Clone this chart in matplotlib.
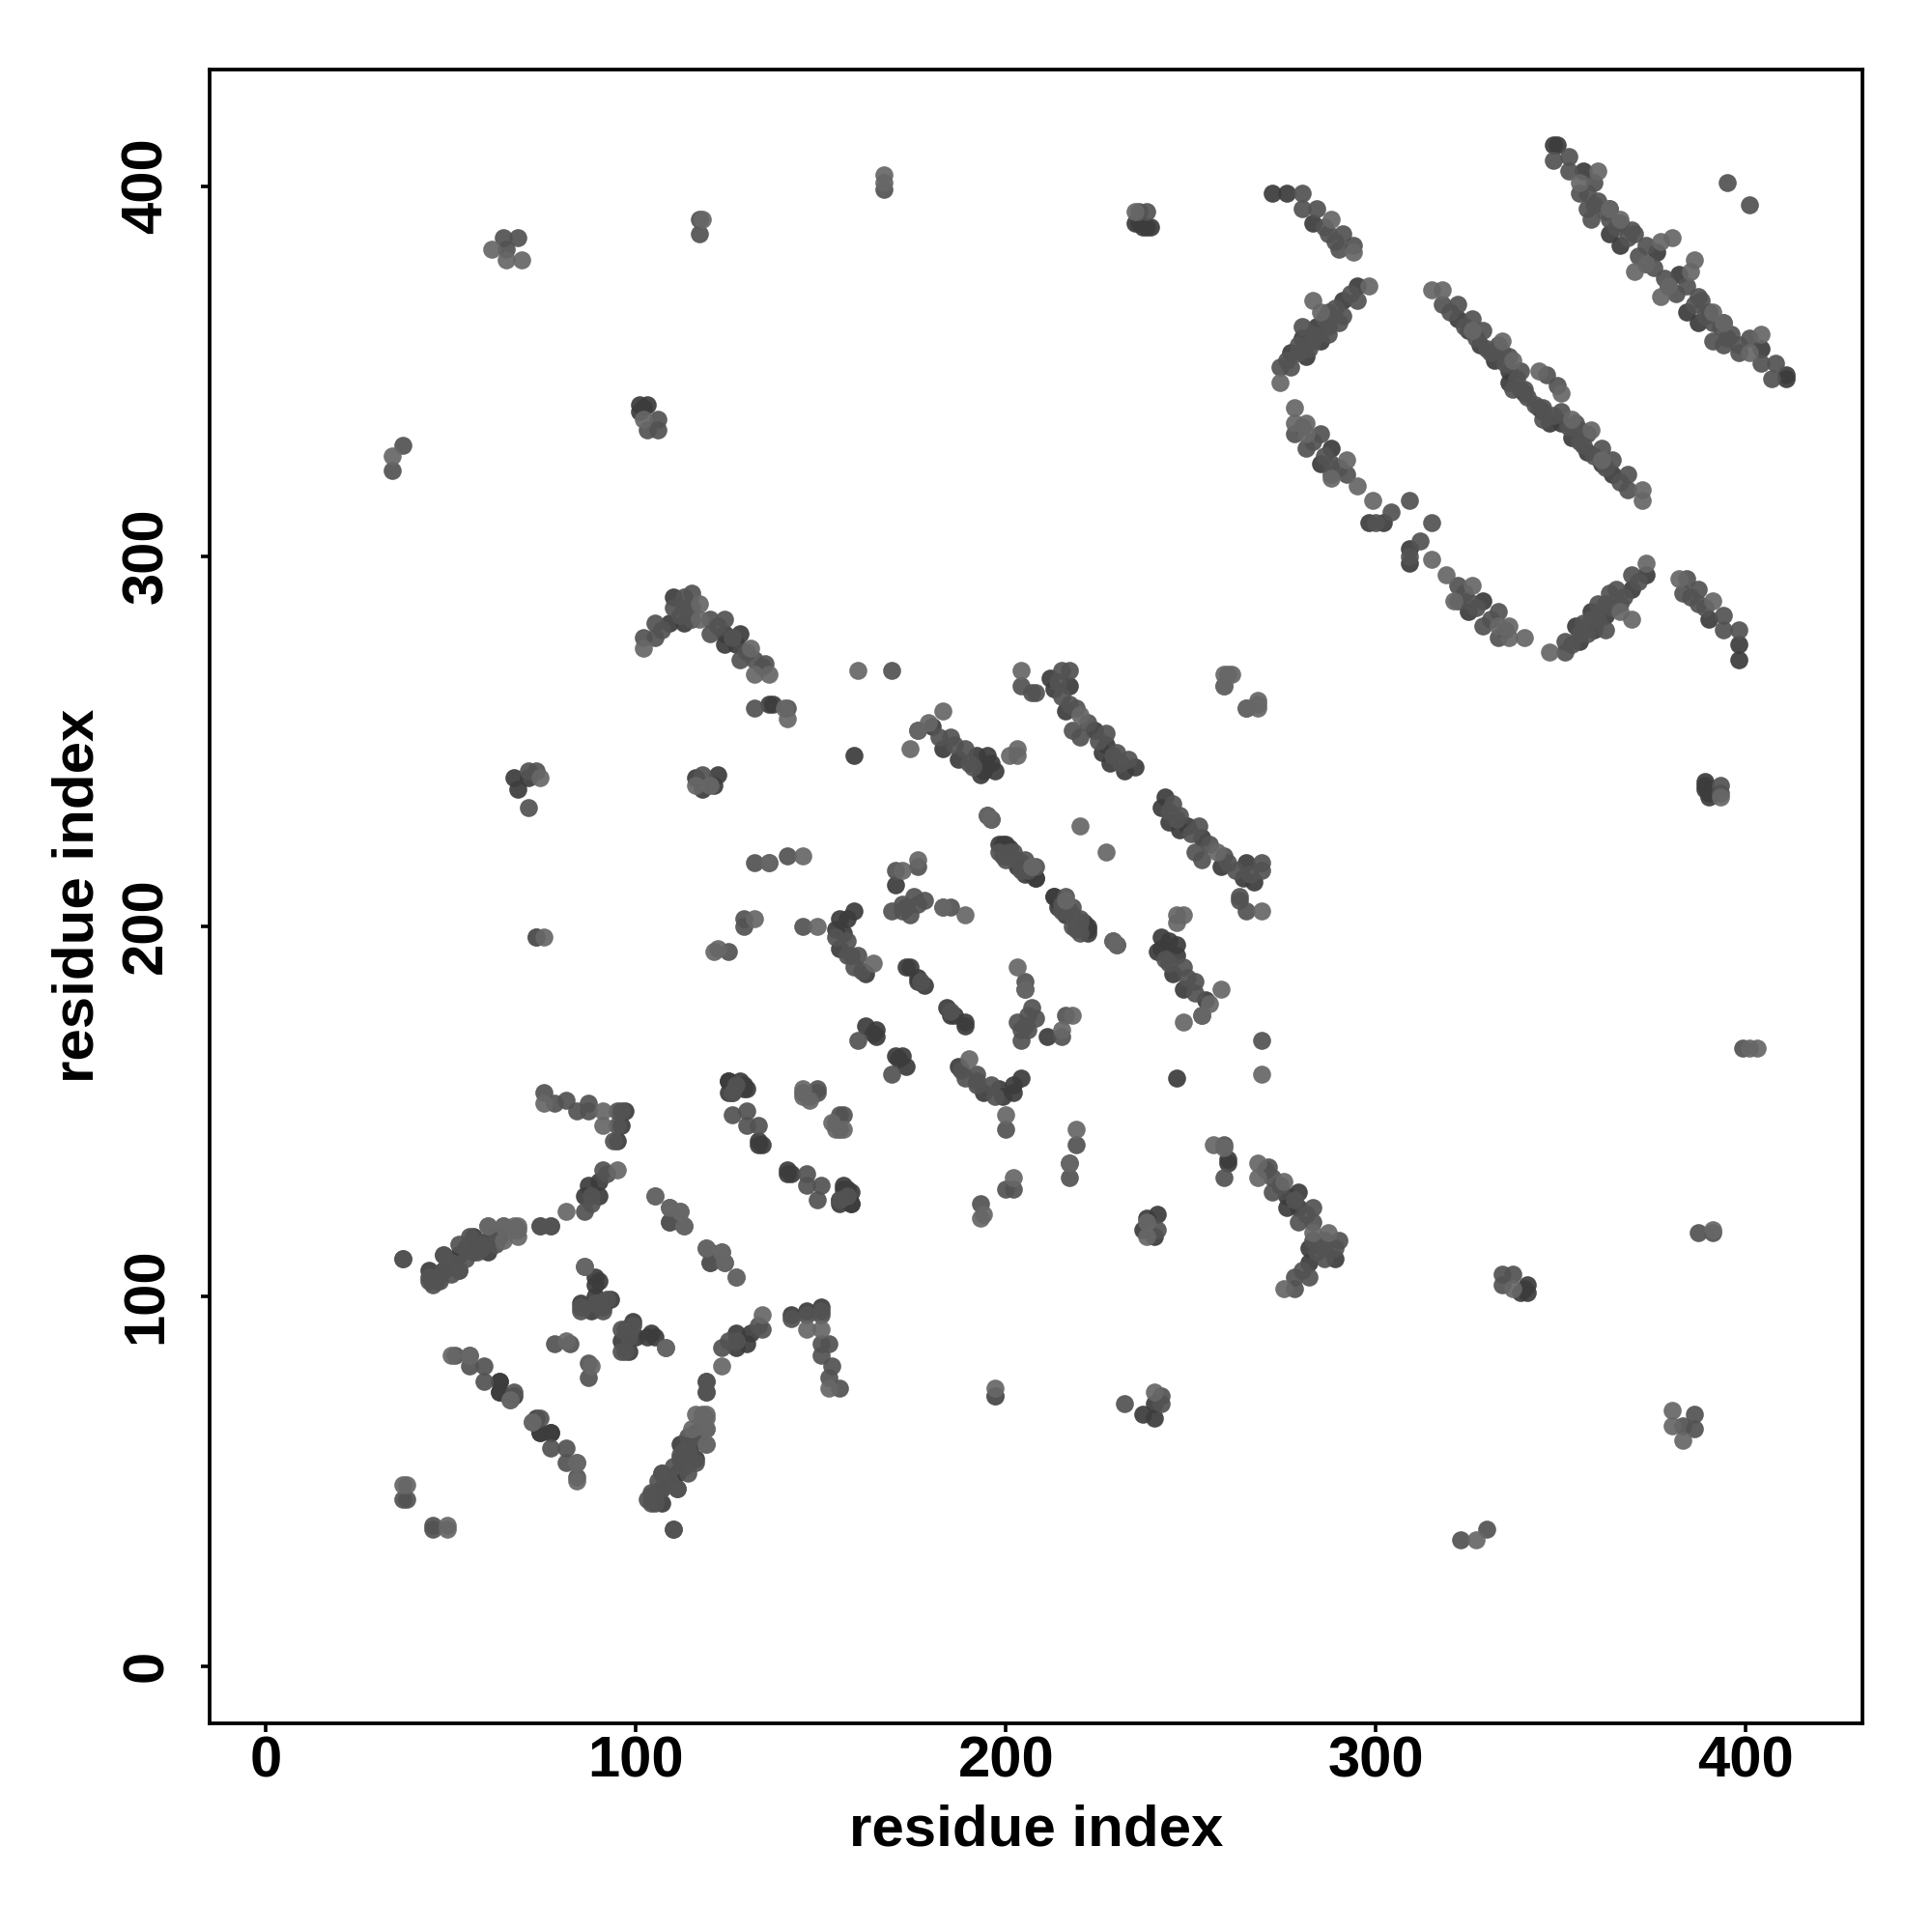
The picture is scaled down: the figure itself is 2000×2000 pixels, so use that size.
import numpy as np
import matplotlib
matplotlib.use('Agg')
import matplotlib.pyplot as plt

plt.rcParams['font.family'] = ['Liberation Sans', 'DejaVu Sans']
plt.rcParams['font.weight'] = 'bold'

# contacts (i<j), grouped by how dark the dot is
dark_contacts = [
    (349,411),(348,411),(356,404),(363,394),(366,390),(363,387),(366,384),(373,379),(376,382),
    (272,398),(276,398),(283,390),(277,355),(280,359),(284,362),(285,358),(281,354),(291,369),(295,373),
    (325,361),(328,357),(332,353),(336,350),(336,347),(339,345),(322,364),
    (340,344),(285,325),(288,329),(302,309),(298,309),
    (109,282),(110,289),(113,282),(124,276),(124,279),(128,279),(127,276),(136,260),(137,260),
    (67,240),(68,237),(71,240),(116,240),(118,237),(122,241),(121,238),
    (159,246),(154,199),(155,202),(157,202),(159,204),(156,198),(155,194),(162,187),
    (170,211),(173,189),(174,189),(176,186),(176,185),(178,184),
    (162,173),(165,172),(165,170),(164,171),
    (193,241),(194,242),(196,244),(197,242),(195,246),(187,245),(192,246),(180,254),(183,248),
    (212,267),(217,265),(213,264),(216,258),(226,247),(228,244),(232,242),(235,243),(224,253),(227,249),
    (195,230),(196,229),(198,222),(200,222),(203,216),(205,214),(207,214),(208,213),
    (213,208),(199,222),(201,221),
    (89,105),(89,103),(90,104),(85,98),(88,96),(93,99),(91,97),(89,100),
    (60,115),(63,116),(56,116),(56,112),(52,111),(60,112),(111,52),
    (44,107),(48,107),(87,130),(90,127),(86,127),(90,131),
    (125,158),(128,158),(129,156),(125,155),(133,142),(133,141),
    (141,134),(156,130),(157,129),(155,126),(158,125),
    (146,96),(150,97),(142,95),
    (63,77),(63,74),(77,63),(74,63),(73,67),
    (102,340),(101,341),(103,341),
    (339,101),(237,389),(238,389),(239,389),(235,390),(236,390),
]
mid_contacts = [
    (352,408),(348,407),(352,404),(359,401),(355,398),(357,394),(359,395),(358,391),(363,391),
    (370,387),(373,384),(395,401),(280,394),(284,394),(280,398),(287,387),(290,383),(291,387),(294,384),
    (274,351),(277,351),(287,366),(291,365),(295,369),(287,362),(280,362),
    (318,368),(322,368),(326,364),(329,361),(333,357),(336,354),(339,350),(346,349),(340,345),
    (278,333),(285,333),(288,325),(288,322),(292,322),(281,329),
    (304,312),(309,315),(300,309),
    (102,278),(105,278),(105,282),(110,286),(113,286),(113,289),(115,290),(120,283),(120,279),(124,283),
    (128,272),(132,272),(135,271),(132,259),(141,259),(169,269),
    (71,242),(73,242),(118,241),(129,200),(129,202),(73,197),(132,217),(141,219),(136,217),
    (125,193),(145,200),(157,192),(160,192),(159,189),
    (169,204),(172,206),(174,203),(175,208),(178,207),(183,205),(185,205),(170,215),(176,216),
    (177,185),(160,169),(185,251),(182,251),(189,248),(176,253),
    (204,265),(207,263),(208,263),(215,269),(217,269),(219,259),(218,253),(220,251),(227,252),(230,247),(233,245),
    (259,265),(201,220),(200,218),(203,218),(208,216),(202,220),(205,218),(200,219),(204,215),
    (75,155),(78,152),(81,153),(84,150),(87,152),(87,150),(95,150),(96,150),(95,146),(94,142),
    (126,149),(130,150),(130,146),(133,146),(147,154),(149,156),(145,155),(149,155),
    (91,134),(86,123),(74,119),(77,119),(48,111),(52,114),(52,107),(47,104),(44,104),
    (45,103),(37,110),(109,124),(109,120),(112,120),(119,113),(120,109),
    (86,108),(89,98),(85,96),(85,97),(91,96),(92,99),(78,87),(82,87),
    (51,84),(55,81),(59,77),(67,74),(66,72),(81,59),(38,45),(45,37),(110,37),
    (105,44),(107,48),(111,48),(107,52),(113,54),(116,55),(119,74),(119,77),
    (34,323),(37,330),(64,386),(68,386),(65,383),(117,387),(117,391),(167,399),
    (103,334),(106,334),(106,337),(236,393),(238,393),(197,73),(71,232),
    # second pass, dots hidden in the crowded bands
    (357,398),(360,396),(362,393),(365,389),(368,386),(371,381),(375,378),(369,388),(286,389),(289,385),
    (276,353),(279,357),(283,358),(279,355),(283,360),(286,364),(289,367),(293,371),(282,356),(287,360),(290,363),
    (320,366),(324,362),(327,359),(330,356),(334,355),(331,355),(335,352),(338,348),(337,345),(341,343),
    (280,335),(283,331),(286,327),(290,324),(107,280),(112,284),(115,286),(115,283),(122,281),(126,278),(130,274),(134,270),
    (50,109),(54,113),(58,114),(62,117),(104,46),(109,50),(112,57),(114,58),(114,62),
    (214,266),(215,262),(217,260),(222,255),(225,250),(229,246),(231,244),(186,249),(190,244),(191,243),
    (198,220),(199,219),(204,217),(206,215),(157,196),(158,192),(161,188),(154,197),(172,204),(173,205),(176,206),
    (126,155),(127,157),(88,127),(92,133),(88,125),(46,105),(50,106),(54,110),(58,113),
]
light_contacts = [
    (355,401),(360,404),(363,394),(366,391),(370,377),(373,379),(377,385),(380,386),
    (288,391),(294,382),(274,347),(298,373),(283,369),(285,366),
    (315,372),(318,372),(326,361),(334,358),(337,353),(344,350),
    (278,340),(278,336),(281,336),(281,333),(292,326),(295,319),(299,315),(288,321),
    (102,275),(117,287),(117,283),(131,275),(132,268),(136,268),(141,256),(140,259),
    (160,269),(74,240),(132,202),(121,193),(122,194),(136,217),(145,219),(149,200),
    (164,190),(174,248),(183,258),(179,255),(176,253),(172,215),(176,218),(189,203),(183,205),
    (201,246),(203,248),(203,246),(204,269),(220,257),(259,268),(261,268),(265,259),(268,260),
    (220,227),(207,216),(229,196),(230,195),
    (75,152),(91,150),(91,146),(145,156),(145,154),(147,153),(95,134),(81,123),
    (67,118),(64,119),(60,119),(67,119),(105,127),(112,123),(113,119),(123,112),(124,109),(127,105),
    (86,108),(81,88),(55,84),(72,66),(84,50),(84,55),(38,49),(49,37),
    (119,60),(119,64),(119,68),(118,68),(116,68),(115,64),
    (34,327),(61,383),(65,380),(69,380),(118,391),(167,401),(167,403),(235,393),(102,337),
    (75,197),(120,238),(116,238),
]

ticks = [0, 100, 200, 300, 400]


def both_sides(pairs):
    # the map is symmetric, each contact shows up on both sides of the diagonal
    res = np.array(pairs)
    return np.concatenate([res[:, 0], res[:, 1]]), np.concatenate([res[:, 1], res[:, 0]])


fig = plt.figure(figsize=(10, 10), dpi=200)
ax = fig.add_axes([216.5/2000, 1-1784/2000, (1928-216.5)/2000, (1784-71.5)/2000])

for pairs, col in [(dark_contacts, '#3c3c3c'), (mid_contacts, '#535353'), (light_contacts, '#676767')]:
    xs, ys = both_sides(pairs)
    ax.scatter(xs, ys, s=45, color=col, alpha=0.93, linewidths=0, zorder=3)

ax.set_xlim(-15.4, 431.5)
ax.set_ylim(-15.5, 431.6)
ax.set_xticks(ticks)
ax.set_yticks(ticks)
ax.tick_params(axis='both', length=3.2, width=1.3, labelsize=21.5)
ax.tick_params(axis='x', pad=1.2)
ax.tick_params(axis='y', pad=10)
for lab in ax.get_yticklabels():
    lab.set_rotation(90)
    lab.set_va('center')
for sp in ax.spines.values():
    sp.set_linewidth(1.35)

ax.set_xlabel('residue index', fontsize=21.6, fontweight='bold')
ax.set_ylabel('residue index', fontsize=21.6, fontweight='bold')
ax.xaxis.set_label_coords((1073-216.5)/1711.5, -(1895-1784)/1712.5, transform=ax.transAxes)
ax.yaxis.set_label_coords(-(216.5-81)/1711.5, (1784-927)/1712.5, transform=ax.transAxes)
ax.xaxis.label.set_va('center')
ax.yaxis.label.set_va('center')

plt.savefig('out.png', dpi=200, facecolor='white')
